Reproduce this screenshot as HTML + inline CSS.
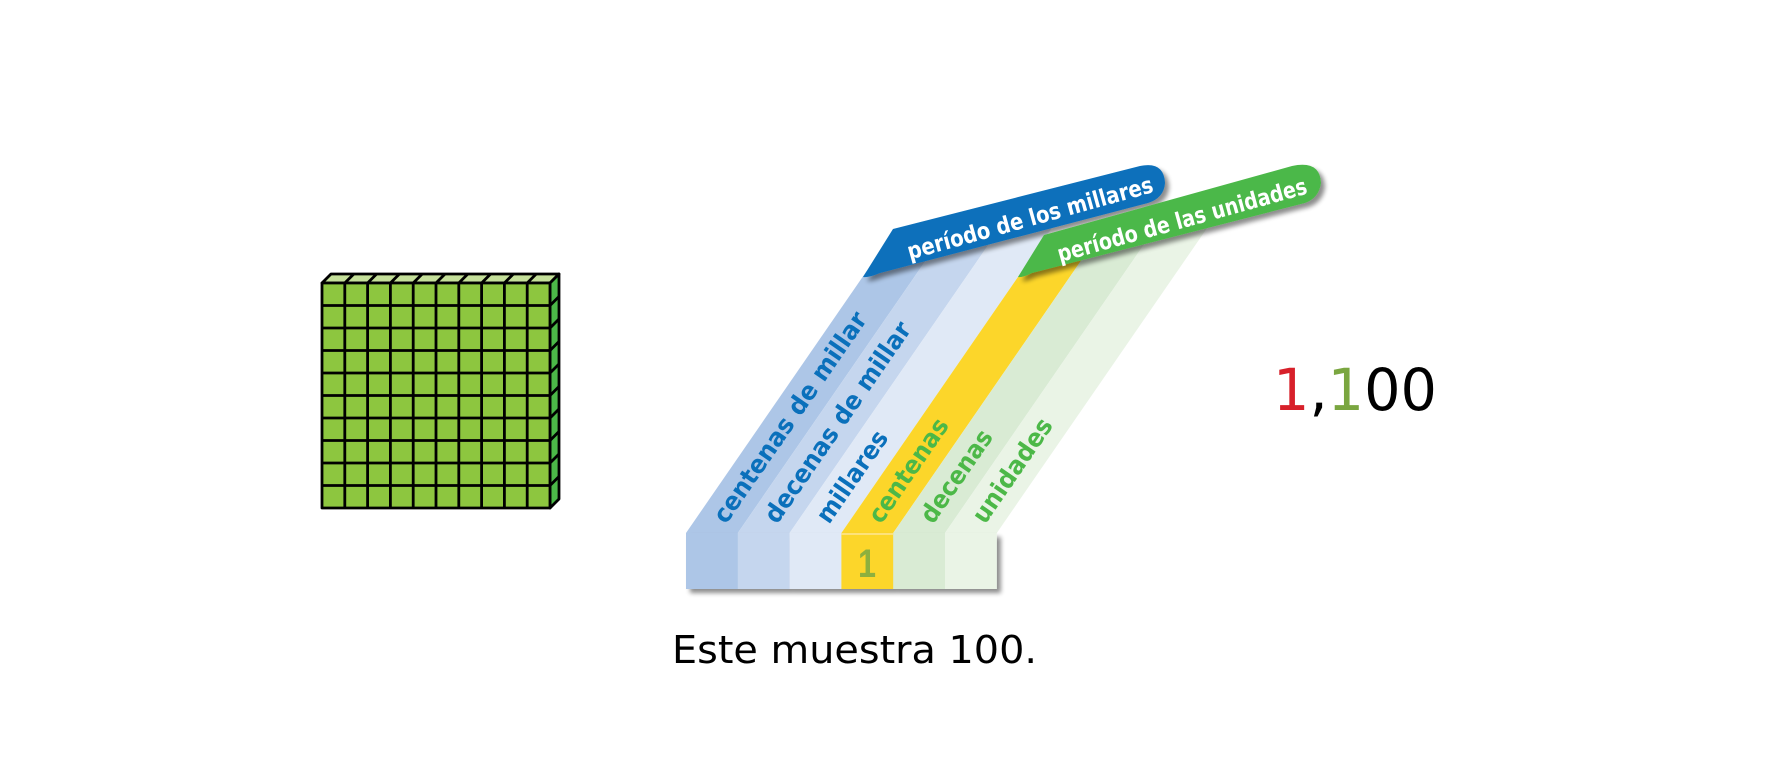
<!DOCTYPE html>
<html><head><meta charset="utf-8"><style>
html,body{margin:0;padding:0;background:#fff}
svg{display:block}
</style></head><body>
<svg width="1780" height="780" viewBox="0 0 1780 780" xmlns="http://www.w3.org/2000/svg">
<defs>
<clipPath id="cb"><polygon points="600,600 600,340 1400,132 1400,600"/></clipPath>
<clipPath id="cg"><polygon points="600,600 600,381 1400,173 1400,600"/></clipPath>
<filter id="sh" x="-10%" y="-10%" width="130%" height="140%"><feGaussianBlur in="SourceAlpha" stdDeviation="2.5"/><feOffset dx="4" dy="4"/><feComponentTransfer><feFuncA type="linear" slope="0.45"/></feComponentTransfer><feMerge><feMergeNode/><feMergeNode in="SourceGraphic"/></feMerge></filter>
</defs>

<g stroke="#000" stroke-width="2.8" stroke-linejoin="round">
<polygon points="322,283 331,274 559,274 550,283" fill="#c5e09a"/>
<polygon points="550,283 559,274 559,499 550,508" fill="#4cb848"/>
<rect x="322" y="283" width="228" height="225" fill="#8dc63f"/>
<path d="M344.8,283V508M367.6,283V508M390.4,283V508M413.2,283V508M436,283V508M458.8,283V508M481.6,283V508M504.4,283V508M527.2,283V508
M322,305.5H550M322,328H550M322,350.5H550M322,373H550M322,395.5H550M322,418H550M322,440.5H550M322,463H550M322,485.5H550
M344.8,283l9,-9M367.6,283l9,-9M390.4,283l9,-9M413.2,283l9,-9M436,283l9,-9M458.8,283l9,-9M481.6,283l9,-9M504.4,283l9,-9M527.2,283l9,-9
M550,305.5l9,-9M550,328l9,-9M550,350.5l9,-9M550,373l9,-9M550,395.5l9,-9M550,418l9,-9M550,440.5l9,-9M550,463l9,-9M550,485.5l9,-9" fill="none"/>
</g>

<g clip-path="url(#cb)">
<polygon points="686,533 737.8,533 1037.8,98 986,98" fill="#adc6e7"/>
<polygon points="737.8,533 789.6,533 1089.6,98 1037.8,98" fill="#c5d6ee"/>
<polygon points="789.6,533 841.4,533 1141.4,98 1089.6,98" fill="#e0e9f6"/>
</g>
<g clip-path="url(#cg)">
<polygon points="841.4,533 893.2,533 1193.2,98 1141.4,98" fill="#fcd62a"/>
<polygon points="893.2,533 945,533 1245,98 1193.2,98" fill="#d9ebd4"/>
<polygon points="945,533 996.8,533 1296.8,98 1245,98" fill="#eaf4e6"/>
</g>

<g filter="url(#sh)">
<rect x="686" y="533" width="52" height="56" fill="#adc6e7"/>
<rect x="737.8" y="533" width="52" height="56" fill="#c5d6ee"/>
<rect x="789.6" y="533" width="52" height="56" fill="#e0e9f6"/>
<rect x="841.4" y="533" width="52" height="56" fill="#fcd62a"/>
<rect x="893.2" y="533" width="52" height="56" fill="#d9ebd4"/>
<rect x="945" y="533" width="51.8" height="56" fill="#eaf4e6"/>
</g>
<line x1="841.4" y1="534" x2="893.2" y2="534" stroke="#fde27a" stroke-width="2"/>
<text x="867" y="577" text-anchor="middle" font-family="Liberation Sans, sans-serif" font-weight="bold" font-size="40" fill="#8db03e" textLength="18" lengthAdjust="spacingAndGlyphs">1</text>

<g font-family="'DejaVu Sans', sans-serif" font-weight="bold" font-size="25">
<text transform="translate(726,525) rotate(-55.4)" fill="#0a70bb" textLength="250" lengthAdjust="spacingAndGlyphs">centenas de millar</text>
<text transform="translate(777,525) rotate(-55.4)" fill="#0a70bb" textLength="238" lengthAdjust="spacingAndGlyphs">decenas de millar</text>
<text transform="translate(829,525) rotate(-55.4)" fill="#0a70bb" textLength="106" lengthAdjust="spacingAndGlyphs">millares</text>
<text transform="translate(881,525) rotate(-55.4)" fill="#4cb848" textLength="121" lengthAdjust="spacingAndGlyphs">centenas</text>
<text transform="translate(933,525) rotate(-55.4)" fill="#4cb848" textLength="107" lengthAdjust="spacingAndGlyphs">decenas</text>
<text transform="translate(985,525) rotate(-55.4)" fill="#4cb848" textLength="121" lengthAdjust="spacingAndGlyphs">unidades</text>
</g>

<g filter="url(#sh)">
<path d="M863,277 L893,229 L1140,166 Q1164,161 1165,183 Q1164,198 1148,203 L880,273 Q868,278 863,277 Z" fill="#0a70bb"/>
<path d="M1018,277 L1044,235 L1292,166 Q1320,160 1321,183 Q1319,198 1305,203 L1032,273 Q1022,278 1018,277 Z" fill="#4cb848"/>
</g>
<g font-family="'DejaVu Sans', sans-serif" font-weight="bold" font-size="23" fill="#fff" text-anchor="middle">
<text transform="translate(1030,218) rotate(-15.5)" y="8" textLength="254" lengthAdjust="spacingAndGlyphs">período de los millares</text>
<text transform="translate(1182,220) rotate(-15.5)" y="8" textLength="258" lengthAdjust="spacingAndGlyphs">período de las unidades</text>
</g>

<text x="1273" y="410" font-family="'DejaVu Sans', sans-serif" font-size="58" textLength="164" lengthAdjust="spacingAndGlyphs"><tspan fill="#d7202a">1</tspan><tspan fill="#000">,</tspan><tspan fill="#7aa640">1</tspan><tspan fill="#000">00</tspan></text>

<text x="672" y="663" font-family="'DejaVu Sans', sans-serif" font-size="38" fill="#000" textLength="365" lengthAdjust="spacingAndGlyphs">Este muestra 100.</text>
</svg>
</body></html>
